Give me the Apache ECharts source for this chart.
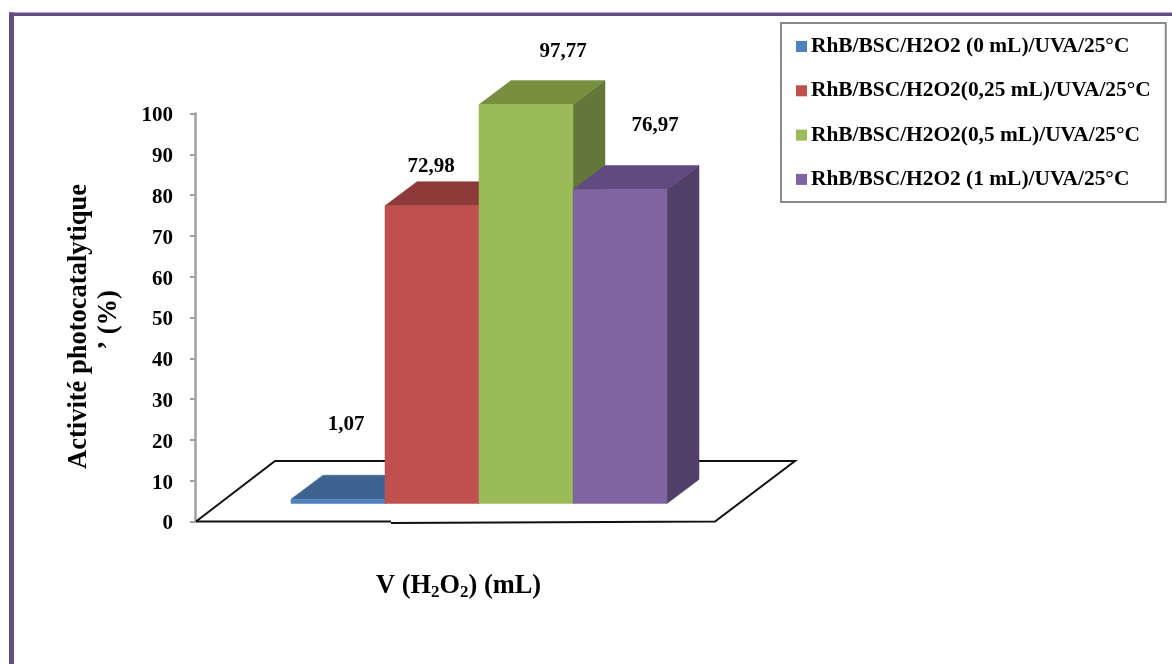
<!DOCTYPE html>
<html>
<head>
<meta charset="utf-8">
<style>html,body{margin:0;padding:0;background:#fff}#chart{width:1172px;height:664px}</style>
<script src="https://cdn.jsdelivr.net/npm/echarts@6/dist/echarts.min.js"></script>
</head>
<body>
<div id="chart"></div>
<script>
// Photocatalytic activity of RhB/BSC with increasing H2O2 volume
const volumes = ['0', '0,25', '0,5', '1'];
const seriesNames = [
  'RhB/BSC/H2O2 (0 mL)/UVA/25°C',
  'RhB/BSC/H2O2(0,25 mL)/UVA/25°C',
  'RhB/BSC/H2O2(0,5 mL)/UVA/25°C',
  'RhB/BSC/H2O2 (1 mL)/UVA/25°C'
];
const activity = [1.07, 72.98, 97.77, 76.97];
const yTicks = [0, 10, 20, 30, 40, 50, 60, 70, 80, 90, 100];

// Shaded faces of each 3D column
const frontColors = ['#4f81bd', '#c0504d', '#9bbb59', '#8064a2'];
const topColors = ['#3e6390', '#8e3a38', '#779040', '#614a7f'];
const sideColors = ['#355478', '#733130', '#64773a', '#523f68'];
// Value label placement relative to the column's front-top centre
const labelShift = [[8, -75], [-1, -39], [37, -53], [35, -64]];

const SERIF = '"Liberation Serif","Times New Roman",serif';
const FLOOR_RISE = 18;     // columns stand this far above the axis zero
const DEPTH_X = 32, DEPTH_Y = 24;  // oblique depth of the columns
const AXIS_OFFSET = 96;    // value axis sits left of the first column slot

function renderColumn(seriesIdx) {
  return function (params, api) {
    const slot = api.size([1, 0])[0];
    const mid = api.coord([api.value(0), 0])[0];
    const l = mid - slot / 2, r = mid + slot / 2;
    const b = api.coord([0, 0])[1] - FLOOR_RISE;
    const value = api.value(1);
    const t = api.coord([0, value])[1] - FLOOR_RISE;
    const dx = DEPTH_X, dy = DEPTH_Y;
    const shift = labelShift[seriesIdx];
    const poly = (points, fill) => ({
      type: 'polygon', shape: { points: points },
      style: { fill: fill, stroke: fill, lineWidth: 0.5 }
    });
    return {
      type: 'group',
      children: [
        poly([[r, b], [r + dx, b - dy], [r + dx, t - dy], [r, t]], sideColors[seriesIdx]),
        poly([[l, t], [l + dx, t - dy], [r + dx, t - dy], [r, t]], topColors[seriesIdx]),
        poly([[l, t], [r, t], [r, b], [l, b]], frontColors[seriesIdx]),
        {
          type: 'text',
          style: {
            text: String(value).replace('.', ','),
            x: mid + shift[0], y: t + shift[1],
            align: 'center', verticalAlign: 'middle',
            font: 'bold 21px ' + SERIF, fill: '#000'
          }
        }
      ]
    };
  };
}

// Floor plate under the columns, placed from the axis frame
function renderFloor(params, api) {
  const zero = api.coord([0, 0])[1];
  const left = params.coordSys.x - AXIS_OFFSET;
  const right = params.coordSys.x + params.coordSys.width;
  const line = (pts) => ({
    type: 'polyline', shape: { points: pts },
    style: { fill: null, stroke: '#111', lineWidth: 2 }
  });
  return {
    type: 'group',
    children: [
      line([[left + 1, zero], [left + 80, zero - 60.5], [right + 128, zero - 60.5], [right + 48, zero], [left + 196, zero + 1.5]]),
      line([[left + 196, zero], [left + 1, zero]])
    ]
  };
}

const option = {
  backgroundColor: '#fff',
  animation: false,
  textStyle: { fontFamily: SERIF },
  grid: { left: 291, top: 113.5, width: 376, height: 408 },
  xAxis: {
    type: 'category', data: volumes,
    axisLine: { show: false }, axisTick: { show: false }, axisLabel: { show: false }
  },
  yAxis: {
    type: 'value', min: 0, max: 100, interval: 10, offset: AXIS_OFFSET,
    name: 'Activité photocatalytique\n\u00a0\u00a0’ (%)',
    nameLocation: 'middle', nameRotate: 90, nameGap: 71,
    nameTextStyle: { fontFamily: SERIF, fontWeight: 'bold', fontSize: 26.5, color: '#000', lineHeight: 30, padding: [0, 18, 0, 0] },
    splitLine: { show: false },
    axisLine: { show: true, lineStyle: { color: '#a0a0a0', width: 2.5 } },
    axisTick: { show: true, length: 5, lineStyle: { color: '#a0a0a0', width: 2 } },
    axisLabel: { margin: 22, color: '#000', fontFamily: SERIF, fontWeight: 'bold', fontSize: 21,
      verticalAlign: 'top', lineHeight: 5,
      formatter: (v) => yTicks.includes(v) ? String(v) : '' }
  },
  title: {
    left: 376, top: 571, padding: 0,
    text: '{b|V (H}{s|2}{b|O}{s|2}{b|) (mL)}',
    textStyle: {
      rich: {
        b: { fontFamily: SERIF, fontWeight: 'bold', fontSize: 26.4, color: '#000', lineHeight: 30, verticalAlign: 'middle' },
        s: { fontFamily: SERIF, fontWeight: 'bold', fontSize: 17, color: '#000', lineHeight: 30, verticalAlign: 'bottom', padding: [11, 0, 0, 0] }
      }
    }
  },
  legend: {
    orient: 'vertical', left: 781, top: 23, align: 'left',
    padding: [13, 15, 12, 15],
    itemWidth: 11, itemHeight: 11, itemGap: 23.3,
    icon: 'rect',
    borderColor: '#8a8a8a', borderWidth: 2, borderRadius: 0, backgroundColor: '#fff',
    selectedMode: false,
    data: seriesNames,
    textStyle: { fontFamily: SERIF, fontWeight: 'bold', fontSize: 21.4, color: '#000', padding: [0, 0, 0, -1] }
  },
  graphic: [
    { type: 'rect', silent: true, shape: { x: 9, y: 12.5, width: 1163, height: 3.5 }, style: { fill: '#644d82' } },
    { type: 'rect', silent: true, shape: { x: 9, y: 12.5, width: 5, height: 652 }, style: { fill: '#644d82' } }
  ],
  series: [
    { type: 'custom', name: 'floor', silent: true, z: 1, renderItem: renderFloor, data: [[0, 0]], encode: { x: 0, y: 1 }, tooltip: { show: false } }
  ].concat(seriesNames.map((name, i) => ({
    type: 'custom', name: name, z: 2 + i, silent: true,
    renderItem: renderColumn(i),
    itemStyle: { color: frontColors[i] },
    data: [[i, activity[i]]],
    encode: { x: 0, y: 1 }
  })))
};

echarts.init(document.getElementById('chart'), null, { renderer: 'canvas' }).setOption(option);
</script>
</body>
</html>
